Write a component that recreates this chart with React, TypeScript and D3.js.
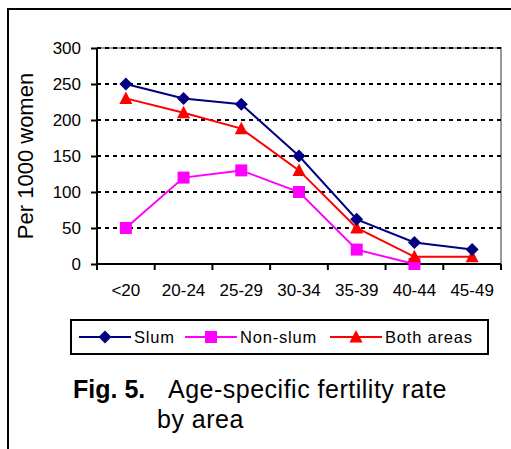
import React, { useRef, useEffect } from 'react';
import * as d3 from 'd3';

const ageGroups = ['<20', '20-24', '25-29', '30-34', '35-39', '40-44', '45-49'];
const slum = [250, 230, 222, 150, 62, 30, 20];
const nonSlum: (number | null)[] = [50, 120, 130, 100, 20, 0, null];
const bothAreas = [230, 210, 188, 130, 50, 10, 10];
const yTicks = [0, 50, 100, 150, 200, 250, 300];

const seriesList = [
  { name: 'Slum', values: slum, color: '#000080', marker: 'diamond' },
  { name: 'Non-slum', values: nonSlum, color: '#FF00FF', marker: 'square' },
  { name: 'Both areas', values: bothAreas, color: '#FF0000', marker: 'triangle' },
];

const FONT = 'Liberation Sans, Arial, sans-serif';

const App = () => {
  const svgRef = useRef<SVGSVGElement>(null);

  useEffect(() => {
    const svg = d3.select(svgRef.current);
    svg.selectAll('*').remove();

    const left = 97;
    const right = 501;
    const top = 48;
    const bottom = 264;

    const x = d3.scaleBand().domain(ageGroups).range([left, right]);
    const y = d3.scaleLinear().domain([0, 300]).range([bottom, top]);

    // outer frame (left + top only)
    svg.append('path')
      .attr('d', `M8,449 L8,9 L511,9`)
      .attr('fill', 'none')
      .attr('stroke', '#000')
      .attr('stroke-width', 2);

    // plot area border (grey, top & right)
    svg.append('path')
      .attr('d', `M${left},${top} L${right},${top} L${right},${bottom}`)
      .attr('fill', 'none')
      .attr('stroke', '#999')
      .attr('stroke-width', 2);

    // dashed gridlines
    svg.append('g')
      .selectAll('line')
      .data(yTicks.filter((t) => t > 0))
      .join('line')
      .attr('x1', left)
      .attr('x2', right)
      .attr('y1', (d) => y(d))
      .attr('y2', (d) => y(d))
      .attr('stroke', '#000')
      .attr('stroke-width', 2)
      .attr('stroke-dasharray', '4,4');

    // y axis
    const yAxis = svg.append('g')
      .attr('transform', `translate(${left},0)`)
      .call(d3.axisLeft(y).tickValues(yTicks).tickSize(6).tickPadding(10));
    yAxis.select('.domain').attr('stroke', '#000').attr('stroke-width', 2).attr('d', `M0,${top}V${bottom}`);
    yAxis.selectAll('.tick line').attr('stroke', '#000').attr('stroke-width', 2);
    yAxis.selectAll('.tick text')
      .attr('font-family', FONT)
      .attr('font-size', 17)
      .attr('fill', '#000');

    // x axis with ticks at category boundaries
    const xAxis = svg.append('g').attr('transform', `translate(0,${bottom})`);
    xAxis.append('line')
      .attr('x1', left).attr('x2', right)
      .attr('stroke', '#000').attr('stroke-width', 2);
    const boundaries = ageGroups.map((g) => x(g) as number).concat([right]);
    xAxis.selectAll('line.tk')
      .data(boundaries)
      .join('line')
      .attr('class', 'tk')
      .attr('x1', (d) => d).attr('x2', (d) => d)
      .attr('y1', 0).attr('y2', 6)
      .attr('stroke', '#000').attr('stroke-width', 2);
    xAxis.selectAll('text')
      .data(ageGroups)
      .join('text')
      .attr('x', (d) => (x(d) as number) + x.bandwidth() / 2)
      .attr('y', 32)
      .attr('text-anchor', 'middle')
      .attr('font-family', FONT)
      .attr('font-size', 17)
      .text((d) => d);

    // y title
    svg.append('text')
      .attr('transform', `translate(33,${(top + bottom) / 2}) rotate(-90)`)
      .attr('text-anchor', 'middle')
      .attr('font-family', FONT)
      .attr('font-size', 22)
      .text('Per 1000 women');

    const cx = (i: number) => (x(ageGroups[i]) as number) + x.bandwidth() / 2;

    const drawMarker = (g: any, kind: string, color: string, px: number, py: number) => {
      if (kind === 'diamond') {
        g.append('path')
          .attr('d', `M${px},${py - 6.5}L${px + 6.5},${py}L${px},${py + 6.5}L${px - 6.5},${py}Z`)
          .attr('fill', color);
      } else if (kind === 'square') {
        g.append('rect')
          .attr('x', px - 6).attr('y', py - 6)
          .attr('width', 12).attr('height', 12)
          .attr('fill', color);
      } else {
        g.append('path')
          .attr('d', `M${px},${py - 7}L${px + 6.5},${py + 5.5}L${px - 6.5},${py + 5.5}Z`)
          .attr('fill', color);
      }
    };

    // draw in order: non-slum, both, slum
    const order = [1, 2, 0];
    order.forEach((si) => {
      const s = seriesList[si];
      const line = d3.line<number | null>()
        .defined((d) => d !== null)
        .x((_, i) => cx(i))
        .y((d) => y(d as number));
      const g = svg.append('g');
      g.append('path')
        .attr('d', line(s.values as (number | null)[]))
        .attr('fill', 'none')
        .attr('stroke', s.color)
        .attr('stroke-width', 2);
      (s.values as (number | null)[]).forEach((v, i) => {
        if (v === null) return;
        drawMarker(g, s.marker, s.color, cx(i), y(v));
      });
    });

    // legend
    const lg = svg.append('g');
    lg.append('rect')
      .attr('x', 71).attr('y', 320)
      .attr('width', 417).attr('height', 34)
      .attr('fill', '#fff')
      .attr('stroke', '#000')
      .attr('stroke-width', 2);
    const legendX = [79, 185, 330];
    seriesList.forEach((s, i) => {
      const lx = legendX[i];
      const ly = 337;
      lg.append('line')
        .attr('x1', lx).attr('x2', lx + 52)
        .attr('y1', ly).attr('y2', ly)
        .attr('stroke', s.color).attr('stroke-width', 2);
      drawMarker(lg, s.marker, s.color, lx + 26, ly);
      lg.append('text')
        .attr('x', lx + 55)
        .attr('y', ly + 6)
        .attr('font-family', FONT)
        .attr('font-size', 16.5)
        .attr('letter-spacing', 0.8)
        .text(s.name);
    });

    // caption
    svg.append('text')
      .attr('x', 73).attr('y', 398)
      .attr('font-family', FONT)
      .attr('font-size', 25)
      .attr('font-weight', 'bold')
      .text('Fig. 5.');
    svg.append('text')
      .attr('x', 168).attr('y', 398)
      .attr('font-family', FONT)
      .attr('font-size', 25)
      .attr('letter-spacing', 0.5)
      .text('Age-specific fertility rate');
    svg.append('text')
      .attr('x', 157).attr('y', 428)
      .attr('font-family', FONT)
      .attr('font-size', 25)
      .attr('letter-spacing', 0.5)
      .text('by area');
  }, []);

  return (
    <svg
      ref={svgRef}
      width={511}
      height={449}
      style={{ position: 'absolute', left: 0, top: 0, background: '#fff' }}
    />
  );
};

export default App;
